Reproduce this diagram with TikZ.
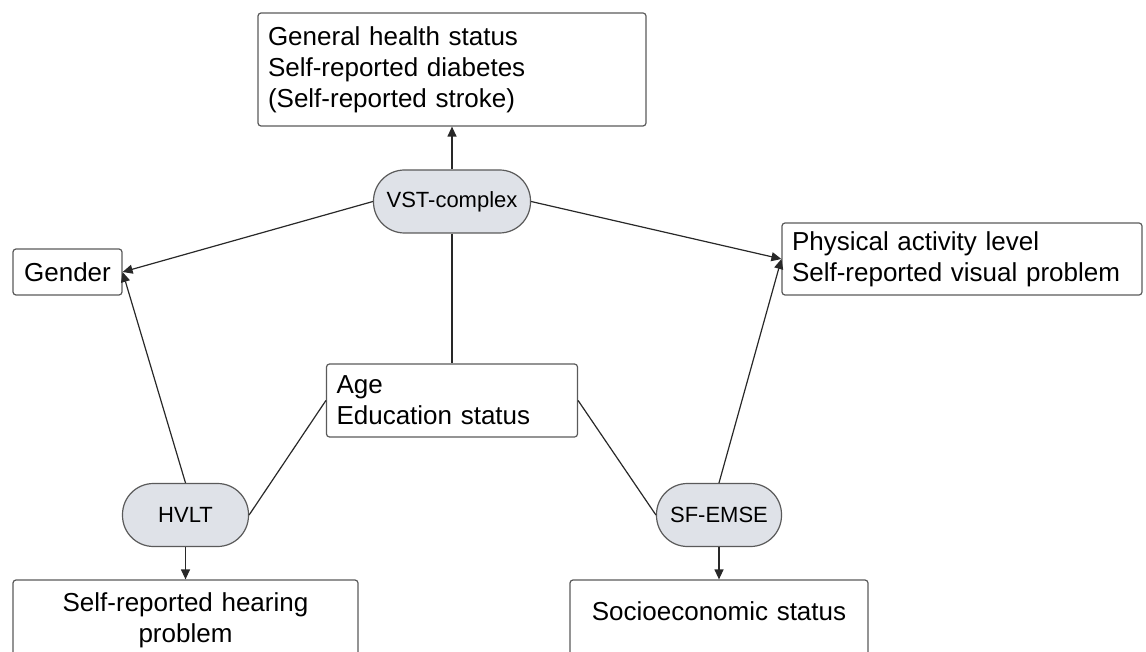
\documentclass[tikz,border=0pt]{standalone}
\usepackage{fontspec}
\setmainfont{Liberation Sans}
\usepackage{tikz}
\usetikzlibrary{shapes,arrows.meta}
\usepackage{xcolor}
\definecolor{gris}{RGB}{90,90,90}
\definecolor{trazo}{RGB}{40,40,40}
\definecolor{relleno}{RGB}{223,226,232}

\begin{document}
\begin{tikzpicture}[x=0.5pt,y=-0.5pt,
    caja/.style={draw=gris,line width=0.6pt,rounded corners=1.5pt,inner xsep=5pt,
        font=\fontsize{13}{15.5}\selectfont},
    prueba/.style={draw=gris,fill=relleno,line width=0.6pt,rounded corners=15.5pt,
        minimum height=31.5pt,font=\fontsize{11}{13}\selectfont},
    flecha/.style={draw=trazo,line width=0.6pt,-{Triangle[length=5pt,width=4.5pt]}},
    conex/.style={draw=trazo,line width=0.6pt}]
            \useasboundingbox (0,0) rectangle (1146,652);
            \clip (0,0) rectangle (1146,652);
            % cajas
            \node[caja,text width=184pt,minimum height=56.5pt,align=left] (salud) at (452,69.5) {General health status\\Self-reported diabetes\\(Self-reported stroke)};
            \node[caja,minimum width=54.5pt,minimum height=23pt] (genero) at (67.5,272) {Gender};
            \node[caja,text width=170pt,minimum height=36pt,align=left] (fisica) at (962,259) {Physical activity level\\Self-reported visual problem};
            \node[caja,text width=115.5pt,minimum height=36.5pt,align=left] (edad) at (452,400.5) {Age\\Education status};
            \node[caja,text width=162.5pt,minimum height=40pt,align=center] (oido) at (185.5,620) {Self-reported hearing\\problem};
            \node[caja,text width=139pt,minimum height=40pt,text depth=8.5pt,align=center] (socio) at (719,620) {Socioeconomic status};
            % pruebas
            \node[prueba,minimum width=78.5pt] (vst) at (452,201.5) {VST-complex};
            \node[prueba,minimum width=63pt] (hvlt) at (185.5,515) {HVLT};
            \node[prueba,minimum width=62.5pt] (sfemse) at (719,515) {SF-EMSE};
            % conexiones
            \draw[flecha] (vst.north) -- (salud.south);
            \draw[flecha] (vst.west) -- (genero.east);
            \draw[flecha] (vst.east) -- (fisica.west);
            \draw[conex] (vst.south) -- (edad.north);
            \draw[flecha] (hvlt.north) -- (genero.east);
            \draw[conex] (hvlt.east) -- (edad.west);
            \draw[flecha] (hvlt.south) -- (oido.north);
            \draw[flecha] (sfemse.north) -- (fisica.west);
            \draw[conex] (sfemse.west) -- (edad.east);
            \draw[flecha] (sfemse.south) -- (socio.north);
\end{tikzpicture}
\end{document}
